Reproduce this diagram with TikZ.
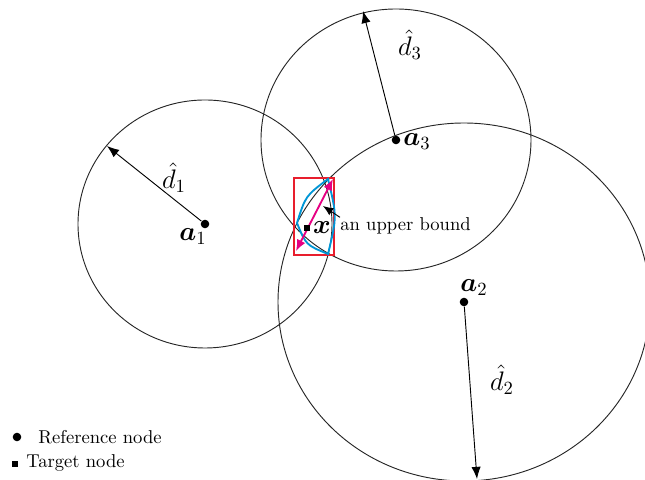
\documentclass[tikz,border=0pt]{standalone}
\usepackage{amsmath,bm}
\usetikzlibrary{arrows.meta}
\definecolor{boxred}{RGB}{232,30,45}
\definecolor{lensblue}{RGB}{0,150,214}
\definecolor{bndpink}{RGB}{230,0,130}

\begin{document}
\begin{tikzpicture}[x=0.5376pt, y=-0.5376pt, >={Latex[length=6.5pt,width=5pt]},
  refpt/.style={circle, fill=black, inner sep=0pt, minimum size=4.6pt},
  tgtpt/.style={fill=black, inner sep=0pt, minimum size=3.6pt},
  rng/.style={draw=black!85, line width=0.5pt},
  lbl/.style={font=\Large, inner sep=0pt}]
\useasboundingbox (0,0) rectangle (645,480);
\node[refpt] (a1) at (205,224) {};
\node[refpt] (a3) at (396,140) {};
\node[refpt] (a2) at (464,302) {};
\draw[rng] (a1) circle[x radius=127, y radius=124];
\draw[rng] (a3) circle[x radius=135, y radius=131];
\draw[rng] (a2) circle[x radius=186, y radius=179];
\coordinate (t1) at (107,146);
\coordinate (t3) at (363,11);
\coordinate (t2) at (477,479);
\draw[->, line width=0.5pt] (a1) -- (t1);
\draw[->, line width=0.5pt] (a3) -- (t3);
\draw[->, line width=0.5pt] (a2) -- (t2);
\node[lbl] (a1l) at (193,237) {$\bm{a}_1$};
\node[lbl] (a3l) at (417,142) {$\bm{a}_3$};
\node[lbl] (a2l) at (474,288) {$\bm{a}_2$};
\node[lbl] (d1l) at (174,178) {$\hat{d}_1$};
\node[lbl] (d3l) at (410,45) {$\hat{d}_3$};
\node[lbl] (d2l) at (502,380) {$\hat{d}_2$};
\draw[boxred, line width=1pt] (294,178) rectangle (334,255);
\coordinate (lt) at (328,179);
\coordinate (ll) at (297,223);
\coordinate (lb) at (328,254);
\coordinate (c12) at (305.5,196);
\coordinate (c23) at (306,245);
\coordinate (c31) at (337,216.5);
\draw[lensblue, line width=1pt] (lt) .. controls (c12) .. (ll)
  .. controls (c23) .. (lb) .. controls (c31) .. cycle;
\coordinate (mu) at (333,179);
\coordinate (md) at (296,251);
\draw[<->, bndpink, line width=1pt, >={Latex[length=6pt,width=5pt]}] (md) -- (mu);
\node[tgtpt] (x) at (307,228) {};
\node[lbl] (xl) at (322,228) {$\bm{x}$};
\node[anchor=west, inner sep=0pt] (ub) at (340,226) {an upper bound};
\coordinate (ubt) at (323,206);
\draw[->, line width=0.5pt, >={Latex[length=5.5pt,width=4.5pt]}] (ub.north west) -- (ubt);
\node[refpt] (k1) at (17,437) {};
\node[anchor=west, inner sep=0pt] (k1l) at (38,437) {Reference node};
\node[tgtpt] (k2) at (15,464) {};
\node[anchor=west, inner sep=0pt] (k2l) at (26,463) {Target node};
\end{tikzpicture}
\end{document}
